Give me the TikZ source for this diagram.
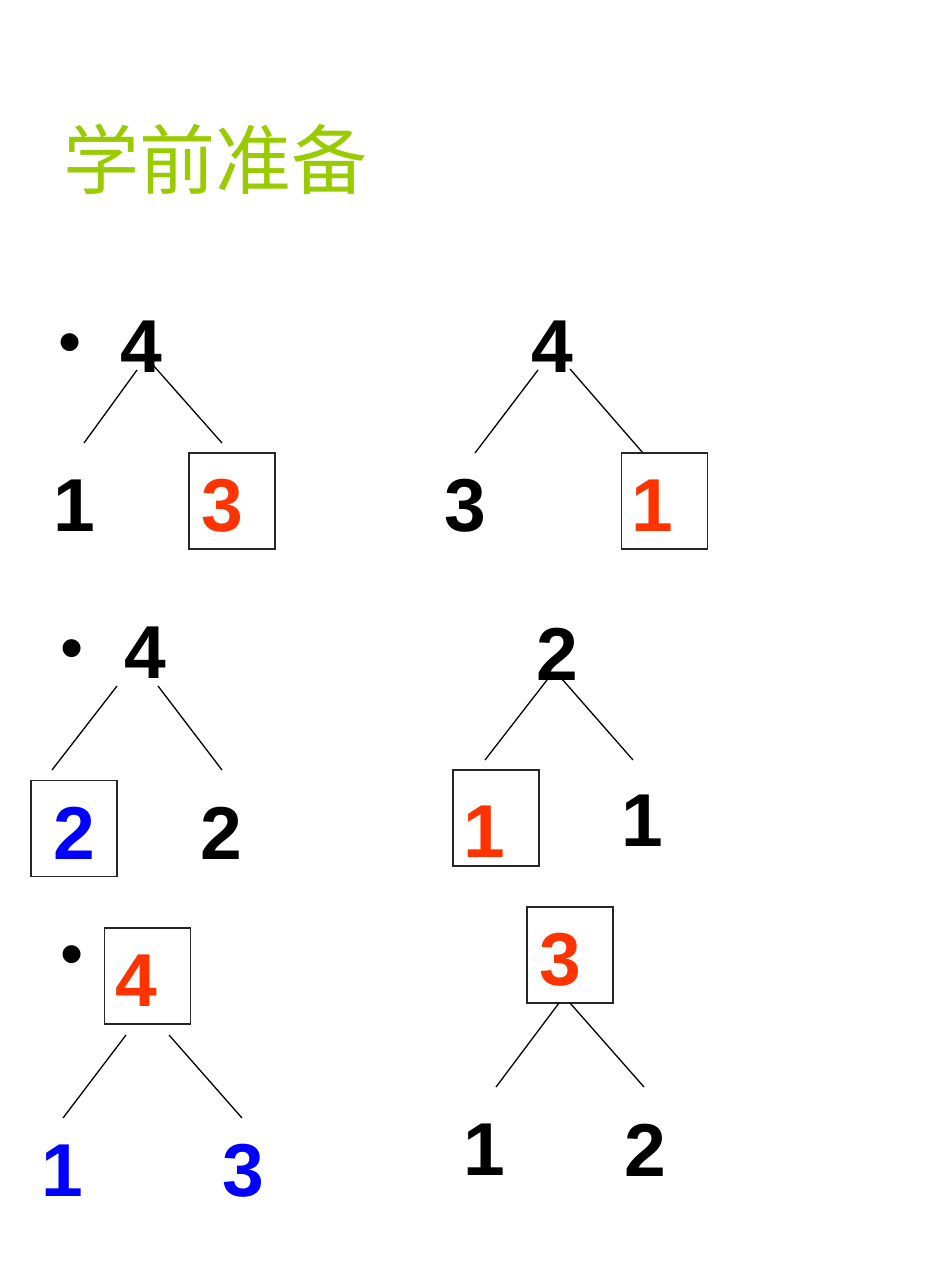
\documentclass[tikz,border=0pt]{standalone}
\usepackage{fontspec}
\setmainfont{Liberation Sans}
\newfontfamily\cjk{Noto Sans CJK SC}
\definecolor{titlegreen}{RGB}{153,204,0}
\definecolor{numred}{RGB}{255,51,0}
\definecolor{numblue}{RGB}{0,0,255}
\begin{document}
\begin{tikzpicture}[x=1pt,y=-1pt,
  num/.style={inner sep=0pt, font=\fontsize{75}{75}\selectfont\bfseries},
  bulletdot/.style={inner sep=0pt, font=\fontsize{66}{66}\selectfont},
  boxn/.style={draw=black!85, line width=1.3pt, inner sep=0pt, minimum width=86pt, minimum height=96pt},
  branch/.style={line width=1.3pt, black},
  titletext/.style={inner sep=0pt, anchor=base west, text=titlegreen, font=\fontsize{76}{76}\selectfont\cjk}
]
\useasboundingbox (0,0) rectangle (950,1267);
\fill[white] (0,0) rectangle (950,1267);

\node[titletext] (title) at (63,188) {学前准备};

% Tree 1
\node[bulletdot] (b1) at (70,349) {•};
\node[num] (t1root) at (141,347) {4};
\coordinate (t1a) at (137,370); \coordinate (t1b) at (84,443);
\coordinate (t1c) at (153,365); \coordinate (t1d) at (222,443);
\draw[branch] (t1a) -- (t1b);
\draw[branch] (t1c) -- (t1d);
\node[num] (t1left) at (74,506) {1};
\node[boxn] (t1box) at (232,501) {};
\node[num, text=numred] (t1right) at (222,506) {3};

% Tree 2
\node[num] (t2root) at (552,347) {4};
\coordinate (t2a) at (538,370); \coordinate (t2b) at (475,453);
\coordinate (t2c) at (570,369); \coordinate (t2d) at (643,453);
\draw[branch] (t2a) -- (t2b);
\draw[branch] (t2c) -- (t2d);
\node[num] (t2left) at (465,506) {3};
\node[boxn] (t2box) at (664.5,501) {};
\node[num, text=numred] (t2right) at (652,506) {1};

% Tree 3
\node[bulletdot] (b2) at (72,655) {•};
\node[num] (t3root) at (145,653) {4};
\coordinate (t3a) at (117,686); \coordinate (t3b) at (52,770);
\coordinate (t3c) at (158,686); \coordinate (t3d) at (222,770);
\draw[branch] (t3a) -- (t3b);
\draw[branch] (t3c) -- (t3d);
\node[boxn] (t3box) at (74,828.5) {};
\node[num, text=numblue] (t3left) at (74,833) {2};
\node[num] (t3right) at (221,833) {2};

% Tree 4
\node[num] (t4root) at (557,654) {2};
\coordinate (t4a) at (547,680); \coordinate (t4b) at (485,760);
\coordinate (t4c) at (562,679); \coordinate (t4d) at (633,760);
\draw[branch] (t4a) -- (t4b);
\draw[branch] (t4c) -- (t4d);
\node[boxn] (t4box) at (496,818) {};
\node[num, text=numred] (t4left) at (484,832) {1};
\node[num] (t4right) at (642,821) {1};

% Tree 5
\node[bulletdot] (b3) at (72,961) {•};
\node[boxn] (t5box) at (147.5,976) {};
\node[num, text=numred] (t5root) at (136,981) {4};
\coordinate (t5a) at (126,1035); \coordinate (t5b) at (63,1118);
\coordinate (t5c) at (169,1035); \coordinate (t5d) at (242,1118);
\draw[branch] (t5a) -- (t5b);
\draw[branch] (t5c) -- (t5d);
\node[num, text=numblue] (t5left) at (62,1171) {1};
\node[num, text=numblue] (t5right) at (243,1171) {3};

% Tree 6
\node[boxn] (t6box) at (570,955) {};
\node[num, text=numred] (t6root) at (560,960) {3};
\coordinate (t6a) at (559,1003); \coordinate (t6b) at (496,1087);
\coordinate (t6c) at (570,1003); \coordinate (t6d) at (644,1087);
\draw[branch] (t6a) -- (t6b);
\draw[branch] (t6c) -- (t6d);
\node[num] (t6left) at (484,1150) {1};
\node[num] (t6right) at (645,1150) {2};
\end{tikzpicture}
\end{document}
